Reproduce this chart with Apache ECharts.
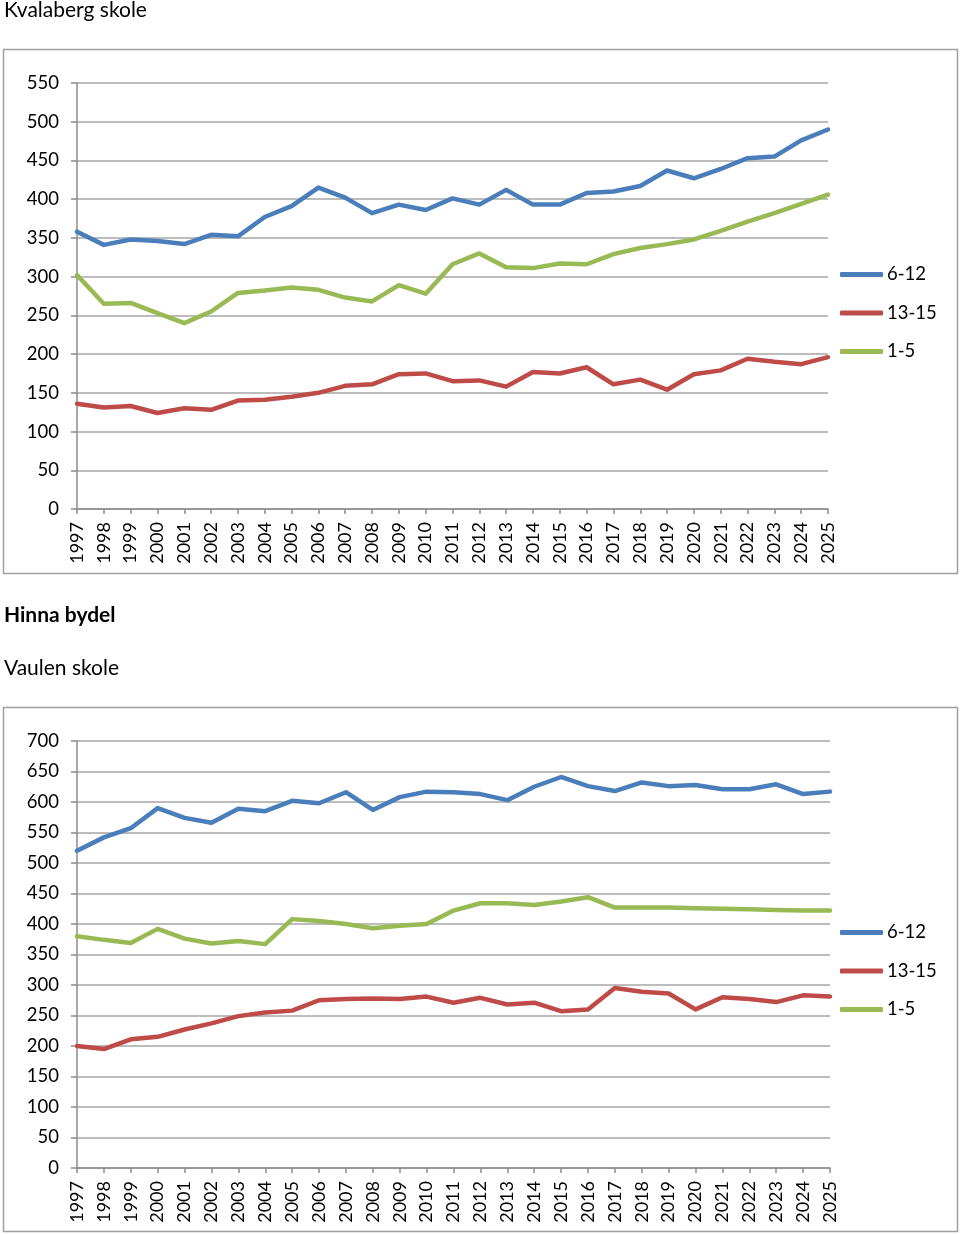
<!DOCTYPE html>
<html><head><meta charset="utf-8">
<script src="https://cdn.jsdelivr.net/npm/echarts@6/dist/echarts.min.js"></script>
<style>html,body{margin:0;padding:0;background:#fff}#c{width:960px;height:1234px}</style>
</head><body><div id="c"></div>
<script>
var years = ['1997','1998','1999','2000','2001','2002','2003','2004','2005','2006','2007','2008','2009','2010','2011','2012','2013','2014','2015','2016','2017','2018','2019','2020','2021','2022','2023','2024','2025'];
var seriesNames = ['6-12','13-15','1-5'];
// Kvalaberg skole
var kval612 = [358,341,348,346,342,354,352,377,391,415,402,382,393,386,401,393,412,393,393,408,410,417,437,427,439,453,455,476,490];
var kval1315 = [136,131,133,124,130,128,140,141,145,150,159,161,174,175,165,166,158,177,175,183,161,167,154,174,179,194,190,187,196];
var kval15 = [302,265,266,253,240,255,279,282,286,283,273,268,289,278,316,330,312,311,317,316,329,337,342,348,359,371,382,394,406];
// Vaulen skole
var vaul612 = [520,542,557,590,574,566,589,585,602,598,616,587,608,617,616,613,603,625,641,626,618,632,626,628,621,621,629,613,617];
var vaul1315 = [200,195,211,215,227,237,249,255,258,275,277,278,277,281,271,279,268,271,257,260,295,289,286,260,280,277,272,283,281];
var vaul15 = [380,374,369,392,376,368,372,367,408,405,400,393,397,400,422,434,434,431,437,444,427,427,427,426,425,424,423,422,422];
var topTicks = {min:0, max:550, interval:50};
var botTicks = {min:0, max:700, interval:50};
var colors = ['#4A7EBB','#BE4B48','#98B954'];
var FONT = 'Lato, "Open Sans", sans-serif';

var chart = echarts.init(document.getElementById('c'), null, {renderer:'canvas'});
function xAxis(gi){
  return {type:'category', gridIndex:gi, data:years, boundaryGap:false,
    axisLine:{lineStyle:{color:'#8c8c8c', width:1.5}},
    axisTick:{show:true, length:5, alignWithLabel:true, lineStyle:{color:'#8c8c8c', width:1.5}},
    axisLabel:{rotate:90, color:'#000', fontSize:18, fontFamily:FONT, margin:13, interval:0},
    splitLine:{show:false}};
}
function yAxis(gi, t){
  return {type:'value', gridIndex:gi, min:t.min, max:t.max, interval:t.interval,
    axisLine:{show:true, lineStyle:{color:'#8c8c8c', width:1.5}},
    axisTick:{show:true, length:6, lineStyle:{color:'#8c8c8c', width:1.5}},
    axisLabel:{color:'#000', fontSize:18.5, fontFamily:FONT, margin:18},
    splitLine:{show:true, lineStyle:{color:'#a6a6a6', width:1.5}}};
}
function line(name, data, gi, ci){
  return {type:'line', name:name, data:data, xAxisIndex:gi, yAxisIndex:gi,
    showSymbol:false, symbol:'none', lineStyle:{width:4.5, color:colors[ci], cap:'round', join:'round'}, itemStyle:{color:colors[ci]},
    animation:false};
}
function legend(top){
  return {orient:'vertical', left:835, top:top, itemGap:19.5, itemWidth:43, itemHeight:5, icon:'roundRect',
    data:seriesNames, textStyle:{fontSize:18.5, fontFamily:FONT, color:'#000', padding:[0,0,0,-1]}};
}
chart.setOption({
  animation:false,
  textStyle:{fontFamily:FONT},
  grid:[{left:77, top:83, width:751, height:426, containLabel:false},
        {left:77, top:741, width:753, height:427, containLabel:false}],
  xAxis:[xAxis(0), xAxis(1)],
  yAxis:[yAxis(0, topTicks), yAxis(1, botTicks)],
  legend:[legend(260), legend(918)],
  series:[line('6-12',kval612,0,0), line('13-15',kval1315,0,1), line('1-5',kval15,0,2),
          line('6-12',vaul612,1,0), line('13-15',vaul1315,1,1), line('1-5',vaul15,1,2)],
  graphic:[
    {type:'rect', shape:{x:3.5, y:49.5, width:954, height:524}, style:{fill:'none', stroke:'#a0a0a0', lineWidth:1.5}, z:-1},
    {type:'rect', shape:{x:3.5, y:707.5, width:954, height:524}, style:{fill:'none', stroke:'#a0a0a0', lineWidth:1.5}, z:-1},
    {type:'text', left:4, top:0, style:{text:'Kvalaberg skole', fontSize:21, fontFamily:FONT, fill:'#000'}},
    {type:'text', left:4, top:605, style:{text:'Hinna bydel', fontSize:21, fontWeight:'bold', fontFamily:FONT, fill:'#000'}},
    {type:'text', left:4, top:658, style:{text:'Vaulen skole', fontSize:21, fontFamily:FONT, fill:'#000'}}
  ]
});
</script></body></html>
